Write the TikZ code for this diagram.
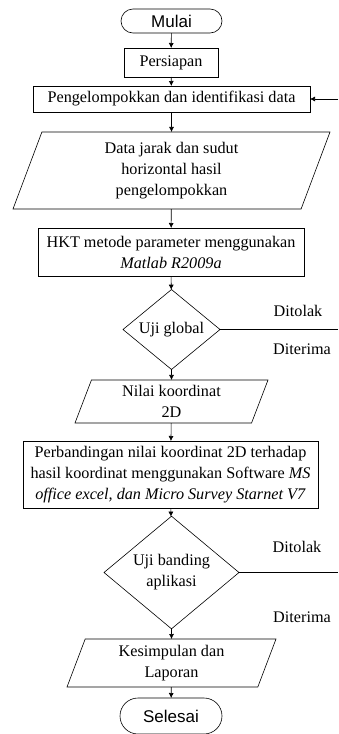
\documentclass[tikz,border=0pt]{standalone}
\usepackage{fontspec}
\setmainfont{Liberation Serif}
\newfontfamily\arialf{Liberation Sans}
\usetikzlibrary{shapes.geometric,shapes.misc,arrows.meta}
\begin{document}
\begin{tikzpicture}[x=1pt,y=-1pt,
  every node/.style={font=\fontsize{16.2}{21}\selectfont, inner sep=0pt, outer sep=0pt},
  box/.style={draw, line width=0.6pt, rectangle, align=center},
  term/.style={draw, line width=0.6pt, rounded rectangle, font=\arialf\fontsize{17}{20}\selectfont},
  io/.style={draw, line width=0.6pt, trapezium, trapezium left angle=63, trapezium right angle=117, trapezium stretches body, align=center},
  dec/.style={draw, line width=0.6pt, diamond, align=center},
  arr/.style={line width=0.6pt, -{Latex[length=5pt,width=5pt]}},
  ln/.style={line width=0.6pt},
  lbl/.style={anchor=center}]
\useasboundingbox (0,0) rectangle (338,734);
\node[term, minimum width=101pt, minimum height=24pt] (mulai) at (171.5,21) {Mulai};
\node[box, minimum width=94pt, minimum height=29pt] (persiapan) at (171,62.5) {Persiapan};
\node[box, minimum width=277pt, minimum height=26pt] (pengel) at (171.5,99) {Pengelompokkan dan identifikasi data};
\node[io, minimum width=317pt, minimum height=77pt] (data) at (171.5,170.5) {Data jarak dan sudut\\horizontal hasil\\pengelompokkan};
\node[box, minimum width=266pt, minimum height=48pt] (hkt) at (171,252) {HKT metode parameter menggunakan\\\textit{Matlab R2009a}};
\node[dec, minimum width=97pt, minimum height=73pt] (uji1) at (171.5,329.5) {Uji global};
\node[io, minimum width=193pt, minimum height=43pt] (nilai) at (171.5,401.5) {Nilai koordinat\\2D};
\node[box, minimum width=295pt, minimum height=67pt] (perb) at (170.5,474.5) {Perbandingan nilai koordinat 2D terhadap\\hasil koordinat menggunakan Software \textit{MS}\\\textit{office excel, dan Micro Survey Starnet V7}};
\node[dec, minimum width=135pt, minimum height=101pt] (uji2) at (171.5,572.5) {Uji banding\\aplikasi};
\node[io, minimum width=209pt, minimum height=48pt] (kesim) at (171.5,663) {Kesimpulan dan\\Laporan};
\node[term, minimum width=102pt, minimum height=36pt] (selesai) at (171,716) {Selesai};
\coordinate (r1) at (338,99);
\coordinate (r2) at (338,329.5);
\coordinate (r3) at (338,572.5);
\draw[arr] (mulai) -- (persiapan);
\draw[arr] (persiapan) -- (pengel);
\draw[arr] (pengel) -- (data);
\draw[arr] (data) -- (hkt);
\draw[arr] (hkt) -- (uji1);
\draw[arr] (uji1) -- (nilai);
\draw[arr] (nilai) -- (perb);
\draw[arr] (perb) -- (uji2);
\draw[arr] (uji2) -- (kesim);
\draw[arr] (kesim) -- (selesai);
\draw[ln] (uji1.east) -- (r2);
\draw[ln] (uji2.east) -- (r3);
\draw[arr] (r1) -- (pengel.east);
\node[lbl] (t1) at (298,311) {Ditolak};
\node[lbl] (d1) at (302,349) {Diterima};
\node[lbl] (t2) at (297,547) {Ditolak};
\node[lbl] (d2) at (302,617) {Diterima};
\end{tikzpicture}
\end{document}
